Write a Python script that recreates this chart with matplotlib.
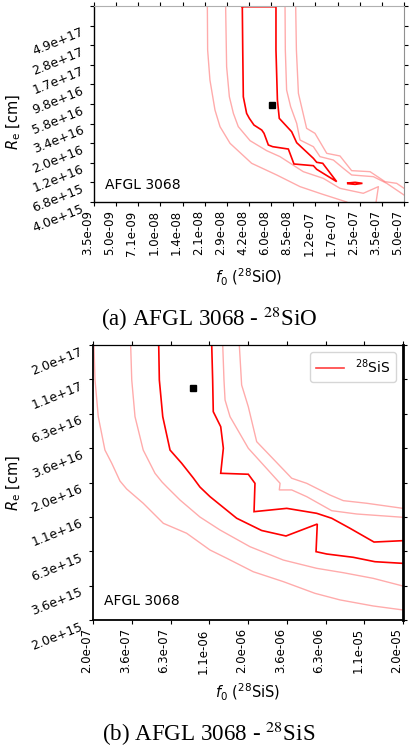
import numpy as np
import matplotlib
matplotlib.use("Agg")
import matplotlib.pyplot as plt

# ---------------- Panel (a): AFGL 3068 - 28SiO (log10 values) ----------------
sio_f0_ticks = ['3.5e-09', '5.0e-09', '7.1e-09', '1.0e-08', '1.4e-08', '2.1e-08', '2.9e-08',
                '4.2e-08', '6.0e-08', '8.5e-08', '1.2e-07', '1.7e-07', '2.5e-07', '3.5e-07', '5.0e-07']
sio_re_ticks = ['4.0e+15', '6.8e+15', '1.2e+16', '2.0e+16', '3.4e+16', '5.8e+16', '9.8e+16',
                '1.7e+17', '2.8e+17', '4.9e+17', '']
sio_f0_range = (3.5e-9, 5.0e-7)
sio_re_range = (4.0e15, 8.36e17)

sio_red_logf = [-7.425, -7.422, -7.418, -7.395, -7.376, -7.344, -7.290, -7.274, -7.244, -7.214,
                -7.105, -7.066, -6.931, -6.908, -6.769, -6.866, -6.908, -6.931, -7.047, -7.082,
                -7.168, -7.181, -7.191, -7.191, -7.425]
sio_red_logR = [17.913, 17.401, 16.848, 16.651, 16.592, 16.513, 16.454, 16.415, 16.277, 16.257,
                16.229, 16.052, 16.032, 15.989, 15.843, 16.060, 16.072, 16.119, 16.304, 16.434,
                16.592, 16.809, 17.401, 17.913, 17.913]
sio_island_logf = [-6.692, -6.641, -6.590, -6.641, -6.692, -6.692]
sio_island_logR = [15.827, 15.835, 15.823, 15.811, 15.819, 15.827]

sio_mid_left_logf = [-6.495, -6.479, -6.584, -6.746, -6.862, -7.001, -7.163, -7.256, -7.371,
                     -7.453, -7.487, -7.515, -7.534, -7.541]
sio_mid_left_logR = [15.602, 15.784, 15.705, 15.764, 15.882, 15.961, 16.139, 16.210, 16.328,
                     16.494, 16.651, 16.848, 17.203, 17.921]
sio_mid_right_logf = [-7.128, -7.126, -7.117, -7.089, -7.047, -7.024, -6.931, -6.885, -6.792,
                      -6.723, -6.665, -6.514, -6.421, -6.301]
sio_mid_right_logR = [17.921, 17.401, 16.927, 16.730, 16.533, 16.336, 16.257, 16.139, 16.099,
                      16.001, 15.922, 15.902, 15.823, 15.685]
sio_out_left_logf = [-6.699, -6.873, -7.024, -7.186, -7.360, -7.510, -7.580, -7.615, -7.650,
                     -7.666, -7.668]
sio_out_left_logR = [15.602, 15.697, 15.784, 15.922, 16.060, 16.296, 16.494, 16.691, 17.046,
                     17.401, 17.921]
sio_out_right_logf = [-7.054, -7.049, -7.035, -6.978, -6.920, -6.838, -6.746, -6.665, -6.537,
                      -6.433, -6.352, -6.301]
sio_out_right_logR = [17.921, 17.401, 16.888, 16.474, 16.415, 16.178, 16.147, 15.973, 15.961,
                      15.843, 15.823, 15.764]
sio_best = (6.0e-8, 5.6e16)

# ---------------- Panel (b): AFGL 3068 - 28SiS (log10 values) ----------------
sis_f0_ticks = ['2.0e-07', '3.6e-07', '6.3e-07', '1.1e-06', '2.0e-06', '3.6e-06', '6.3e-06',
                '1.1e-05', '2.0e-05']
sis_re_ticks = ['2.0e+15', '3.6e+15', '6.3e+15', '1.1e+16', '2.0e+16', '3.6e+16', '6.3e+16',
                '1.1e+17', '2.0e+17']
sis_f0_range = (2.0e-7, 2.0e-5)
sis_re_range = (2.0e15, 2.0e17)

sis_red_upper_logf = [-5.933, -5.927, -5.923, -5.875, -5.858, -5.875, -5.697, -5.654, -5.660,
                      -5.449, -5.256, -5.159, -5.041, -4.886, -4.699]
sis_red_upper_logR = [17.301, 17.047, 16.816, 16.707, 16.550, 16.368, 16.361, 16.295, 16.089,
                      16.113, 16.077, 16.041, 15.968, 15.868, 15.878]
sis_red_lower_logf = [-6.275, -6.271, -6.249, -6.202, -6.127, -6.052, -6.009, -5.944, -5.772,
                      -5.611, -5.454, -5.252, -5.260, -5.191, -5.020, -4.880, -4.699]
sis_red_lower_logR = [17.301, 17.047, 16.780, 16.537, 16.441, 16.334, 16.268, 16.198, 16.041,
                      15.952, 15.912, 15.999, 15.798, 15.781, 15.757, 15.725, 15.713]
sis_mid_lower_logf = [-6.456, -6.449, -6.428, -6.375, -6.299, -6.254, -6.222, -6.138, -6.009,
                      -5.880, -5.686, -5.471, -5.256, -5.084, -4.891, -4.699]
sis_mid_lower_logR = [17.301, 17.047, 16.780, 16.537, 16.368, 16.305, 16.268, 16.174, 16.050,
                      15.956, 15.834, 15.737, 15.677, 15.645, 15.604, 15.548]
sis_out_lower_logf = [-6.693, -6.686, -6.665, -6.622, -6.578, -6.525, -6.482, -6.375, -6.245,
                      -6.095, -5.944, -5.836, -5.665, -5.471, -5.267, -5.105, -4.891, -4.699]
sis_out_lower_logR = [17.301, 17.047, 16.780, 16.537, 16.441, 16.312, 16.254, 16.150, 16.004,
                      15.932, 15.810, 15.750, 15.652, 15.580, 15.495, 15.447, 15.403, 15.374]
sis_mid_upper_logf = [-5.862, -5.854, -5.847, -5.815, -5.697, -5.492, -5.497, -5.417, -5.320,
                      -5.159, -4.998, -4.699]
sis_mid_upper_logR = [17.301, 17.047, 16.901, 16.780, 16.550, 16.295, 16.247, 16.247, 16.198,
                      16.096, 16.072, 16.048]
sis_out_upper_logf = [-5.755, -5.740, -5.697, -5.643, -5.417, -5.320, -5.170, -5.084, -4.933,
                      -4.699]
sis_out_upper_logR = [17.301, 17.010, 16.852, 16.598, 16.332, 16.295, 16.210, 16.169, 16.150,
                      16.113]
sis_best = (8.9e-7, 9.8e16)

source = 'AFGL 3068'

RED = '#ff0000'
LIGHT_ALPHA = 0.33


def line(ax, lf, lr, strong=False, **kw):
    x = 10 ** np.asarray(lf)
    y = 10 ** np.asarray(lr)
    if strong:
        return ax.plot(x, y, color=RED, lw=1.2, solid_joinstyle='miter', **kw)
    return ax.plot(x, y, color=RED, lw=1.0, alpha=LIGHT_ALPHA, **kw)


def style_axes(ax, xr, yr, xt, yt):
    ax.set_xscale('log')
    ax.set_yscale('log')
    ax.set_xlim(*xr)
    ax.set_ylim(*yr)
    xpos = np.geomspace(xr[0], xr[1], len(xt))
    ypos = np.geomspace(yr[0], yr[1], len(yt))
    ax.xaxis.set_major_locator(matplotlib.ticker.FixedLocator(xpos))
    ax.yaxis.set_major_locator(matplotlib.ticker.FixedLocator(ypos))
    ax.xaxis.set_minor_locator(matplotlib.ticker.NullLocator())
    ax.yaxis.set_minor_locator(matplotlib.ticker.NullLocator())
    ax.set_xticklabels(xt, rotation=90, ha='right', va='top', fontsize=8.5)
    ax.set_yticklabels(yt, rotation=22, ha='right', va='top', fontsize=9)
    ax.tick_params(direction='out', length=3, width=0.8, top=True, right=True,
                   labeltop=False, labelright=False, pad=3)


fig = plt.figure(figsize=(4.12, 7.48), dpi=100)

# ---- panel (a)
ax1 = fig.add_axes([94 / 412, 1 - 202 / 748, 310 / 412, 196 / 748])
line(ax1, sio_out_left_logf, sio_out_left_logR)
line(ax1, sio_out_right_logf, sio_out_right_logR)
line(ax1, sio_mid_left_logf, sio_mid_left_logR)
line(ax1, sio_mid_right_logf, sio_mid_right_logR)
line(ax1, sio_red_logf, sio_red_logR, strong=True)
line(ax1, sio_island_logf, sio_island_logR, strong=True)
ax1.plot([sio_best[0]], [sio_best[1]], 'ks', ms=4.5)
style_axes(ax1, sio_f0_range, sio_re_range, sio_f0_ticks, sio_re_ticks)
for side in ['left', 'bottom']:
    ax1.spines[side].set_color('black')
    ax1.spines[side].set_linewidth(1.0)
ax1.spines['top'].set_color('#b0b0b0')
ax1.spines['right'].set_color('#909090')
ax1.text(0.035, 0.05, source, transform=ax1.transAxes, fontsize=10, ha='left', va='bottom')
ax1.set_ylabel(r'$R_{\rm e}$ [cm]', fontsize=10.5)
ax1.yaxis.set_label_coords(-0.228, 0.41)
ax1.set_xlabel(r'$f_0$ ($^{28}$SiO)', fontsize=10.5, labelpad=8)

# ---- panel (b)
ax2 = fig.add_axes([93 / 412, 1 - 620 / 748, 310 / 412, 275 / 748])
line(ax2, sis_out_lower_logf, sis_out_lower_logR)
line(ax2, sis_mid_lower_logf, sis_mid_lower_logR)
line(ax2, sis_mid_upper_logf, sis_mid_upper_logR)
line(ax2, sis_out_upper_logf, sis_out_upper_logR)
l_red, = line(ax2, sis_red_lower_logf, sis_red_lower_logR, strong=True, label=r'$^{28}$SiS')
line(ax2, sis_red_upper_logf, sis_red_upper_logR, strong=True)
ax2.plot([sis_best[0]], [sis_best[1]], 'ks', ms=4.5)
style_axes(ax2, sis_f0_range, sis_re_range, sis_f0_ticks, sis_re_ticks)
ax2.spines['left'].set_linewidth(1.3)
ax2.spines['bottom'].set_linewidth(1.3)
ax2.spines['right'].set_linewidth(2.0)
ax2.spines['top'].set_linewidth(0.9)
ax2.text(0.035, 0.044, source, transform=ax2.transAxes, fontsize=10, ha='left', va='bottom')
ax2.set_ylabel(r'$R_{\rm e}$ [cm]', fontsize=10.5)
ax2.yaxis.set_label_coords(-0.226, 0.5)
ax2.set_xlabel(r'$f_0$ ($^{28}$SiS)', fontsize=10.5, labelpad=6)
leg = ax2.legend(loc='upper right', fontsize=10)
leg.get_lines()[0].set_alpha(0.75)

# ---- captions
fig.text(101 / 412, 1 - 326 / 748, r'(a) AFGL 3068 - $^{28}$SiO', fontsize=16.6,
         family='Liberation Serif', math_fontfamily='stix', ha='left', va='baseline')
fig.text(102 / 412, 1 - 741 / 748, r'(b) AFGL 3068 - $^{28}$SiS', fontsize=16.6,
         family='Liberation Serif', math_fontfamily='stix', ha='left', va='baseline')

fig.savefig('out.png', dpi=100)
